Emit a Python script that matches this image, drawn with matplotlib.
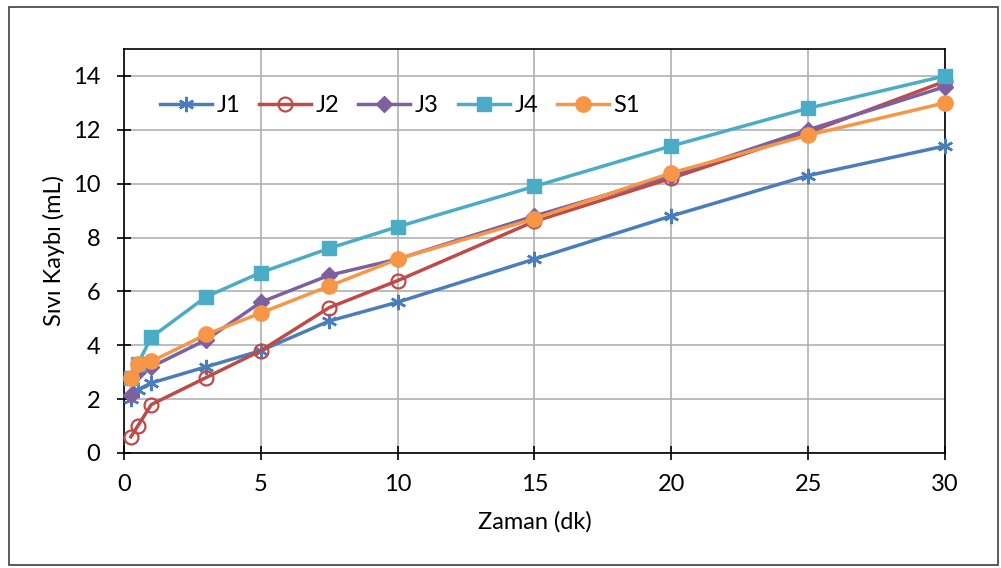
import matplotlib.pyplot as plt
from matplotlib.patches import Rectangle

times = [0.25, 0.5, 1, 3, 5, 7.5, 10, 15, 20, 25, 30]
j1 = [2.0, 2.35, 2.6, 3.2, 3.8, 4.9, 5.6, 7.2, 8.8, 10.3, 11.4]
j2 = [0.6, 1.0, 1.8, 2.8, 3.8, 5.4, 6.4, 8.6, 10.2, 11.9, 13.8]
j3 = [2.15, 3.0, 3.2, 4.2, 5.6, 6.6, 7.2, 8.8, 10.3, 12.0, 13.6]
j4 = [2.8, 3.3, 4.3, 5.8, 6.7, 7.6, 8.4, 9.9, 11.4, 12.8, 14.0]
s1 = [2.8, 3.3, 3.4, 4.4, 5.2, 6.2, 7.2, 8.7, 10.4, 11.8, 13.0]

plt.rcParams["font.family"] = ["Lato", "DejaVu Sans"]
FS = 17

fig = plt.figure(figsize=(10.01, 5.68), dpi=100)
ax = fig.add_axes([0.1239, 0.2025, 0.8201, 0.7112])

fig.patches.append(Rectangle((0.009, 0.005), 0.988, 0.982, transform=fig.transFigure,
                             fill=False, edgecolor="#404040", linewidth=1.2))

ax.plot(times, j1, color="#4A7EBB", lw=2.5, marker=(6, 2, 0), ms=11, mew=1.8,
        label="J1", clip_on=False, zorder=3)
ax.plot(times, j2, color="#BE4B48", lw=2.5, marker="o", ms=10, mew=1.6,
        mfc="none", label="J2", clip_on=False, zorder=3)
ax.plot(times, j3, color="#7D60A0", lw=2.5, marker="D", ms=8,
        label="J3", clip_on=False, zorder=3)
ax.plot(times, j4, color="#4BACC6", lw=2.5, marker="s", ms=10,
        label="J4", clip_on=False, zorder=3)
ax.plot(times, s1, color="#F79646", lw=2.5, marker="o", ms=11,
        label="S1", clip_on=False, zorder=3)

ax.set_xlim(0, 30)
ax.set_ylim(0, 15)
ax.set_xticks(range(0, 31, 5))
ax.set_yticks(range(0, 15, 2))
ax.grid(True, color="#B0B0B0", linewidth=1.2)
ax.set_axisbelow(True)
for sp in ax.spines.values():
    sp.set_color("black")
    sp.set_linewidth(1.2)
ax.tick_params(direction="inout", length=10, width=1.2, labelsize=FS)
ax.tick_params(axis="y", pad=12)
ax.tick_params(axis="x", pad=10)

ax.set_xlabel("Zaman (dk)", fontsize=FS, labelpad=12)
ax.set_ylabel("Sıvı Kaybı (mL)", fontsize=FS, labelpad=6)

ax.legend(loc="center left", bbox_to_anchor=(0.032, 0.859), ncol=5, frameon=False,
          fontsize=FS, handlelength=2.2, columnspacing=0.8, handletextpad=0.2,
          borderaxespad=0)

fig.savefig("out.png", dpi=100)
